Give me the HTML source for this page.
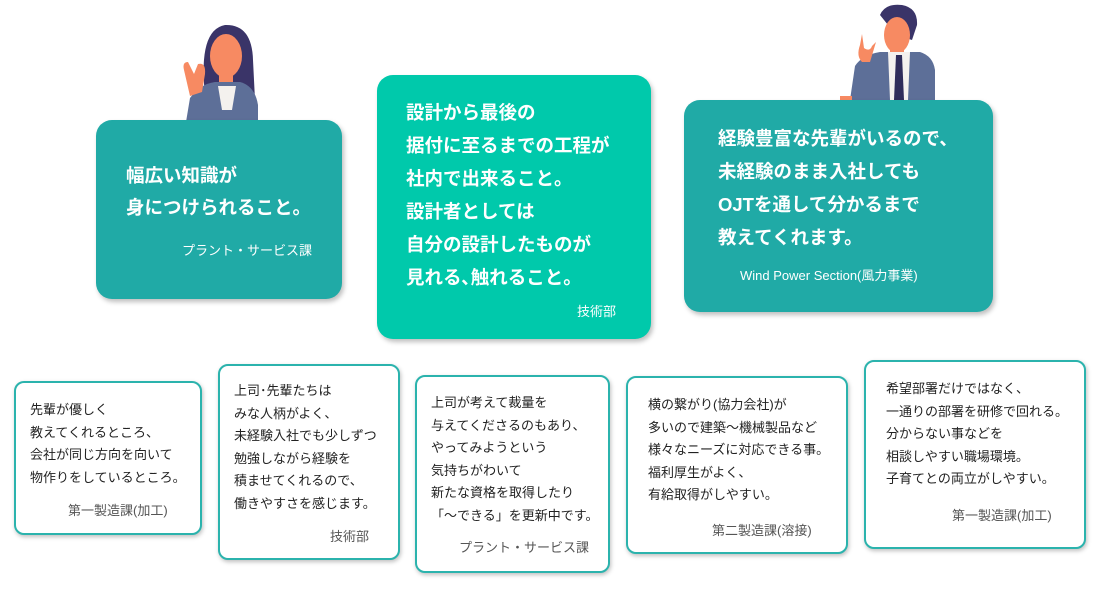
<!DOCTYPE html>
<html><head><meta charset="utf-8"><style>
body{margin:0;width:1100px;height:590px;background:#fff;position:relative;overflow:hidden;font-family:"Liberation Sans","Noto Sans CJK JP",sans-serif;}
.b{position:absolute;border-radius:16px;color:#fff;box-shadow:2px 3px 5px rgba(0,0,0,.25);}
.b .t{position:absolute;font-size:18.5px;font-weight:bold;line-height:33px;letter-spacing:0;white-space:nowrap;}
.b .d{position:absolute;font-size:13px;white-space:nowrap;}
.s{position:absolute;border:2px solid #2bb3ad;border-radius:10px;background:#fff;box-shadow:1px 2px 4px rgba(0,0,0,.25);color:#222;}
.s .t{position:absolute;font-size:13px;line-height:22.6px;white-space:nowrap;}
.s .d{position:absolute;font-size:13px;color:#555;white-space:nowrap;}
</style></head><body>
<svg style="position:absolute;left:0;top:0" width="1100" height="130">
 <path d="M205 95 Q198 30 225 25 Q252 24 253 60 L255 100 Z" fill="#3a3468"/>
 <ellipse cx="226" cy="56" rx="16" ry="22" fill="#f78a62"/>
 <path d="M219 74 h14 v14 h-14z" fill="#f78a62"/>
 <path d="M186 122 L190 98 Q200 84 215 82 L240 82 Q255 86 258 105 L258 122 Z" fill="#5d6f98"/>
 <path d="M218 86 L236 86 L232 110 L222 110Z" fill="#f4f1ee"/>
 <path d="M184 70 Q182 62 188 62 L194 74 L198 64 Q206 62 205 74 L202 92 L190 96Z" fill="#f78a62"/>
 <path d="M880 15 Q885 3 902 5 Q918 8 917 25 L912 40 L896 35 Z" fill="#3a3468"/>
 <ellipse cx="897" cy="35" rx="13" ry="18" fill="#f78a62"/>
 <path d="M890 48 h14 v12 h-14z" fill="#f78a62"/>
 <path d="M850 100 L855 66 Q862 55 880 52 L920 52 Q933 56 935 70 L935 100 Z" fill="#5d6f98"/>
 <path d="M888 52 L910 52 L908 100 L890 100Z" fill="#f4f1ee"/>
 <path d="M896 55 L902 55 L904 100 L894 100Z" fill="#2f2c5a"/>
 <path d="M862 34 L864 48 Q870 52 872 46 L876 42 L870 62 L862 62 Q856 56 860 45Z" fill="#f78a62"/>
 <path d="M840 96 h12 v6 h-12z" fill="#f78a62"/>
</svg>
<div class="b" style="left:96px;top:120px;width:246px;height:179px;background:#20aaa6">
 <div class="t" style="left:30px;top:40px;line-height:32px">幅広い知識が<br>身につけられること。</div>
 <div class="d" style="left:86px;top:120px">プラント・サービス課</div>
</div>
<div class="b" style="left:377px;top:75px;width:274px;height:264px;background:#00c9ab">
 <div class="t" style="left:29px;top:21px">設計から最後の<br>据付に至るまでの工程が<br>社内で出来ること。<br>設計者としては<br>自分の設計したものが<br>見れる､触れること。</div>
 <div class="d" style="left:200px;top:226px">技術部</div>
</div>
<div class="b" style="left:684px;top:100px;width:309px;height:212px;background:#20aaa6">
 <div class="t" style="left:34px;top:22px">経験豊富な先輩がいるので、<br>未経験のまま入社しても<br>OJTを通して分かるまで<br>教えてくれます。</div>
 <div class="d" style="left:56px;top:165px">Wind Power Section(風力事業)</div>
</div>
<div class="s" style="left:14px;top:381px;width:184px;height:150px">
 <div class="t" style="left:14px;top:16px">先輩が優しく<br>教えてくれるところ、<br>会社が同じ方向を向いて<br>物作りをしているところ。</div>
 <div class="d" style="left:52px;top:117px">第一製造課(加工)</div>
</div>
<div class="s" style="left:218px;top:364px;width:178px;height:192px">
 <div class="t" style="left:14px;top:14px">上司･先輩たちは<br>みな人柄がよく、<br>未経験入社でも少しずつ<br>勉強しながら経験を<br>積ませてくれるので、<br>働きやすさを感じます。</div>
 <div class="d" style="left:110px;top:160px">技術部</div>
</div>
<div class="s" style="left:415px;top:375px;width:191px;height:194px">
 <div class="t" style="left:14px;top:15px">上司が考えて裁量を<br>与えてくださるのもあり、<br>やってみようという<br>気持ちがわいて<br>新たな資格を取得したり<br>「～できる」を更新中です。</div>
 <div class="d" style="left:42px;top:160px">プラント・サービス課</div>
</div>
<div class="s" style="left:626px;top:376px;width:218px;height:174px">
 <div class="t" style="left:20px;top:16px">横の繋がり(協力会社)が<br>多いので建築～機械製品など<br>様々なニーズに対応できる事。<br>福利厚生がよく、<br>有給取得がしやすい。</div>
 <div class="d" style="left:84px;top:142px">第二製造課(溶接)</div>
</div>
<div class="s" style="left:864px;top:360px;width:218px;height:185px">
 <div class="t" style="left:20px;top:16px">希望部署だけではなく、<br>一通りの部署を研修で回れる。<br>分からない事などを<br>相談しやすい職場環境。<br>子育てとの両立がしやすい。</div>
 <div class="d" style="left:86px;top:143px">第一製造課(加工)</div>
</div>
</body></html>
